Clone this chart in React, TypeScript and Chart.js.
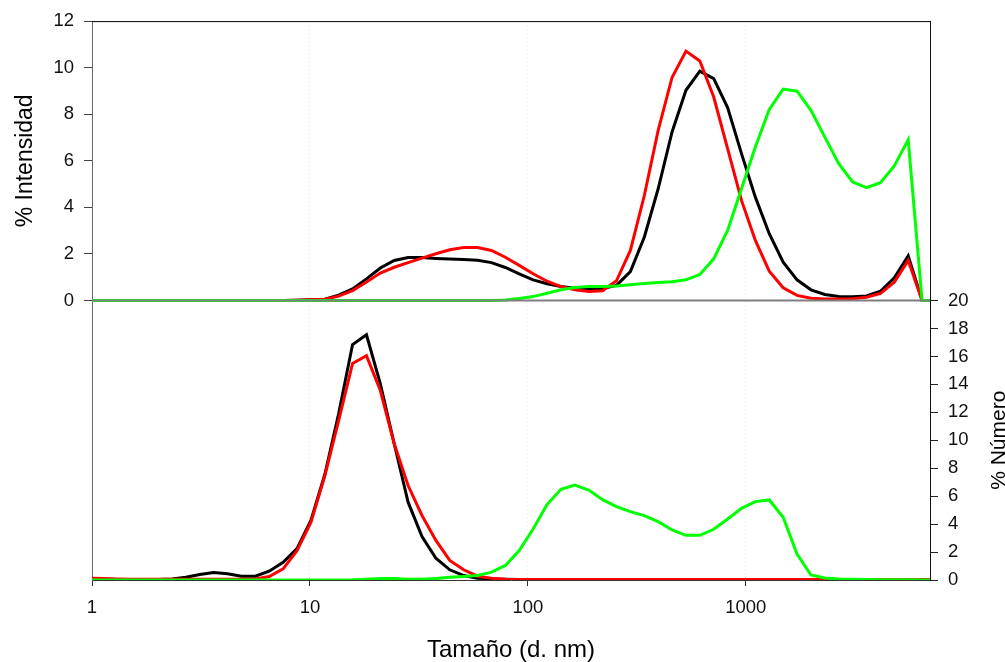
import React, { useEffect, useRef } from "react";
import { Chart, registerables } from "chart.js";

Chart.register(...registerables);

// Size classes (d. nm), log-spaced bins
const SIZES = [
  0.9649, 1.117, 1.294, 1.499, 1.736, 2.01, 2.328, 2.696, 3.122, 3.615,
  4.187, 4.849, 5.615, 6.503, 7.531, 8.721, 10.1, 11.7, 13.54, 15.69,
  18.17, 21.04, 24.36, 28.21, 32.67, 37.84, 43.82, 50.75, 58.77, 68.06,
  78.82, 91.28, 105.7, 122.4, 141.8, 164.2, 190.1, 220.2, 255.0, 295.3,
  342.0, 396.1, 458.7, 531.2, 615.1, 712.4, 825.0, 955.4, 1106, 1281,
  1484, 1718, 1990, 2305, 2669, 3091, 3580, 4145, 4801, 5560, 6439, 7456,
];

// % Intensidad (top panel)
const INT_BLACK = [
  0, 0, 0, 0, 0, 0, 0, 0, 0, 0, 0, 0, 0, 0, 0, 0.01,
  0.03, 0.06, 0.23, 0.5, 0.93, 1.4, 1.72, 1.85, 1.85, 1.81,
  1.78, 1.76, 1.73, 1.63, 1.42, 1.15, 0.89, 0.72, 0.6, 0.53,
  0.5, 0.52, 0.65, 1.24, 2.72, 4.8, 7.24, 9.03, 9.85, 9.53,
  8.29, 6.31, 4.44, 2.87, 1.65, 0.89, 0.46, 0.26, 0.17, 0.16,
  0.2, 0.4, 0.98, 1.92, 0, 0,
];
const INT_RED = [
  0, 0, 0, 0, 0, 0, 0, 0, 0, 0, 0, 0, 0, 0, 0, 0.01,
  0.03, 0.06, 0.19, 0.43, 0.8, 1.18, 1.43, 1.63, 1.82, 2.01,
  2.18, 2.28, 2.28, 2.15, 1.86, 1.51, 1.15, 0.83, 0.6, 0.46,
  0.39, 0.42, 0.85, 2.15, 4.5, 7.31, 9.58, 10.71, 10.29, 8.74,
  6.52, 4.3, 2.58, 1.26, 0.55, 0.22, 0.1, 0.07, 0.07, 0.08,
  0.14, 0.31, 0.79, 1.72, 0, 0,
];
const INT_GREEN = [
  0, 0, 0, 0, 0, 0, 0, 0, 0, 0, 0, 0, 0, 0, 0, 0,
  0, 0, 0, 0, 0, 0, 0, 0, 0, 0, 0, 0, 0, 0,
  0.02, 0.09, 0.17, 0.31, 0.46, 0.56, 0.6, 0.6, 0.63, 0.68,
  0.73, 0.77, 0.81, 0.89, 1.12, 1.79, 3.01, 4.8, 6.59, 8.21,
  9.08, 8.99, 8.17, 7.02, 5.88, 5.09, 4.85, 5.06, 5.78, 6.91, 0, 0,
];

// % Número (bottom panel)
const NUM_BLACK = [
  0.12, 0.08, 0.04, 0.03, 0.03, 0.04, 0.08, 0.2, 0.39, 0.54,
  0.44, 0.27, 0.27, 0.63, 1.27, 2.25, 4.26, 7.55, 11.9, 16.85,
  17.55, 14.04, 9.75, 5.57, 3.11, 1.56, 0.73, 0.32, 0.13, 0.08,
  0.05, 0.03, 0.03, 0.03, 0.03, 0.03, 0.03, 0.03, 0.03, 0.03,
  0.03, 0.03, 0.03, 0.03, 0.03, 0.03, 0.02, 0.02, 0.02, 0.02,
  0.02, 0.02, 0.02, 0.02, 0.02, 0.02, 0.02, 0.02, 0.02, 0.02, 0.02, 0.02,
];
const NUM_RED = [
  0.14, 0.11, 0.08, 0.06, 0.05, 0.05, 0.05, 0.05, 0.05, 0.05,
  0.05, 0.05, 0.07, 0.25, 0.8, 2.1, 4.12, 7.45, 11.4, 15.5,
  16.06, 13.56, 9.75, 6.76, 4.62, 2.83, 1.4, 0.73, 0.27, 0.13,
  0.06, 0.04, 0.04, 0.04, 0.04, 0.04, 0.04, 0.04, 0.04, 0.04,
  0.04, 0.04, 0.04, 0.04, 0.04, 0.04, 0.04, 0.04, 0.04, 0.04,
  0.04, 0.04, 0.04, 0.04, 0.04, 0.04, 0.04, 0.04, 0.04, 0.04, 0.04, 0.04,
];
const NUM_GREEN = [
  0, 0, 0, 0, 0, 0, 0, 0, 0, 0,
  0, 0, 0, 0, 0, 0, 0, 0, 0, 0.01,
  0.05, 0.1, 0.1, 0.06, 0.05, 0.1, 0.2, 0.25, 0.32, 0.56,
  1.04, 2.11, 3.65, 5.4, 6.49, 6.8, 6.44, 5.75, 5.25, 4.89,
  4.61, 4.18, 3.58, 3.2, 3.2, 3.63, 4.37, 5.13, 5.61, 5.73,
  4.49, 1.86, 0.36, 0.14, 0.07, 0.05, 0.03, 0.02, 0.01, 0.01, 0, 0,
];

const X_TICKS = [1, 10, 100, 1000];
const INT_TICKS = [0, 2, 4, 6, 8, 10, 12];
const NUM_TICKS = [0, 2, 4, 6, 8, 10, 12, 14, 16, 18, 20];

const X_TITLE = "Tamaño (d. nm)";
const Y_LEFT_TITLE = "% Intensidad";
const Y_RIGHT_TITLE = "% Número";

const FONT = "'Liberation Sans', Arial, sans-serif";

const pts = (arr: number[]) => SIZES.map((s, i) => ({ x: s, y: arr[i] }));

const overlayPlugin = {
  id: "overlay",
  afterDatasetsDraw(chart: any) {
    const { ctx, chartArea } = chart;
    const { left, right, top } = chartArea;
    const y0 = chart.scales.yTop.getPixelForValue(0);
    ctx.save();
    ctx.strokeStyle = "#7f7f7f";
    ctx.lineWidth = 2;
    ctx.beginPath();
    ctx.moveTo(left, y0);
    ctx.lineTo(right, y0);
    ctx.stroke();
    ctx.strokeStyle = "#000";
    ctx.lineWidth = 1;
    ctx.beginPath();
    ctx.moveTo(left, top + 0.5);
    ctx.lineTo(right, top + 0.5);
    ctx.stroke();
    ctx.restore();
  },
  afterDraw(chart: any) {
    const { ctx, chartArea } = chart;
    const yTop = chart.scales.yTop;
    const yBot = chart.scales.yBot;
    const midTop = (yTop.getPixelForValue(12) + yTop.getPixelForValue(0)) / 2;
    const midBot = (yBot.getPixelForValue(20) + yBot.getPixelForValue(0)) / 2;
    ctx.save();
    ctx.fillStyle = "#000";
    ctx.textAlign = "center";
    ctx.textBaseline = "alphabetic";
    ctx.font = `23px ${FONT}`;
    ctx.save();
    ctx.translate(31.5, midTop);
    ctx.rotate(-Math.PI / 2);
    ctx.fillText(Y_LEFT_TITLE, 0, 0);
    ctx.restore();
    ctx.font = `21px ${FONT}`;
    ctx.save();
    ctx.translate(1005, midBot);
    ctx.rotate(-Math.PI / 2);
    ctx.fillText(Y_RIGHT_TITLE, 0, 0);
    ctx.restore();
    ctx.font = `24px ${FONT}`;
    ctx.fillText(X_TITLE, (chartArea.left + chartArea.right) / 2, 657);
    ctx.restore();
  },
};

export default function App() {
  const ref = useRef<HTMLCanvasElement | null>(null);

  useEffect(() => {
    if (!ref.current) return;
    const tickFont = { family: FONT, size: 18.5 };
    const line = (label: string, data: number[], color: string, axis: string) => ({
      label,
      data: pts(data),
      borderColor: color,
      backgroundColor: color,
      borderWidth: 3,
      pointRadius: 0,
      tension: 0,
      fill: false,
      yAxisID: axis,
    });
    const chart = new Chart(ref.current, {
      type: "line",
      data: {
        datasets: [
          line("Número 3", NUM_GREEN, "#00ff00", "yBot"),
          line("Intensidad 3", INT_GREEN, "#00ff00", "yTop"),
          line("Número 2", NUM_RED, "#ff0000", "yBot"),
          line("Intensidad 2", INT_RED, "#ff0000", "yTop"),
          line("Número 1", NUM_BLACK, "#000000", "yBot"),
          line("Intensidad 1", INT_BLACK, "#000000", "yTop"),
        ],
      },
      options: {
        animation: false,
        responsive: false,
        devicePixelRatio: 1,
        layout: { padding: { top: 21, left: 0, right: 0, bottom: 0 } },
        plugins: {
          legend: { display: false },
          tooltip: { enabled: false },
          title: { display: false },
        },
        scales: {
          x: {
            type: "logarithmic",
            position: "bottom",
            min: 1,
            max: 7000,
            afterBuildTicks: (s: any) => {
              s.ticks = X_TICKS.map((v) => ({ value: v }));
            },
            afterFit: (s: any) => {
              s.height = 82;
            },
            ticks: {
              autoSkip: false,
              maxRotation: 0,
              padding: 11,
              color: "#111",
              font: tickFont,
              callback: (v: any) => String(v),
            },
            grid: {
              drawOnChartArea: true,
              color: "#e8e8e8",
              tickColor: "#333",
              tickLength: 6,
              tickBorderDash: [],
            },
            border: { color: "#333", width: 1, dash: [1, 3] },
          },
          yTop: {
            type: "linear",
            position: "left",
            min: -12,
            max: 12,
            afterBuildTicks: (s: any) => {
              s.ticks = INT_TICKS.map((v) => ({ value: v }));
            },
            afterFit: (s: any) => {
              s.width = 92;
            },
            ticks: {
              padding: 10,
              color: "#111",
              font: tickFont,
              callback: (v: any) => String(v),
            },
            grid: {
              drawOnChartArea: false,
              tickColor: "#444",
              tickLength: 8,
            },
            border: { color: "#666", width: 1 },
          },
          yBot: {
            type: "linear",
            position: "right",
            min: 0,
            max: 40,
            afterBuildTicks: (s: any) => {
              s.ticks = NUM_TICKS.map((v) => ({ value: v }));
            },
            afterFit: (s: any) => {
              s.width = 75;
            },
            ticks: {
              padding: 10,
              color: "#111",
              font: tickFont,
              callback: (v: any) => String(v),
            },
            grid: {
              drawOnChartArea: false,
              tickColor: "#222",
              tickLength: 8,
            },
            border: { color: "#111", width: 1 },
          },
        },
      } as any,
      plugins: [overlayPlugin],
    });
    return () => chart.destroy();
  }, []);

  return (
    <div
      style={{
        position: "fixed",
        left: 0,
        top: 0,
        width: 1005,
        height: 662,
        background: "#fff",
      }}
    >
      <canvas ref={ref} width={1005} height={662} style={{ display: "block" }} />
    </div>
  );
}
